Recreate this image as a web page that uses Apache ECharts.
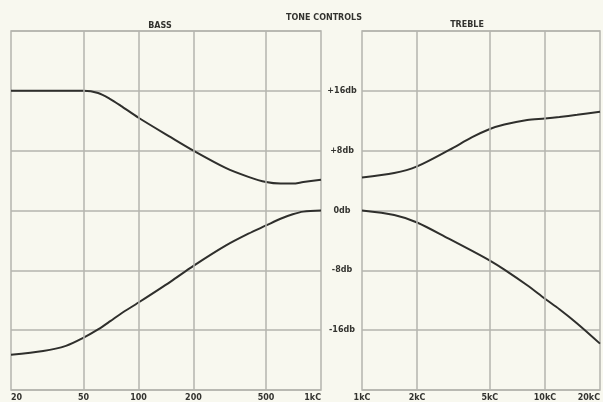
<!DOCTYPE html>
<html>
	<head>
		<meta charset="utf-8" />
		<title>Tone controls</title>
		<script src="https://cdn.jsdelivr.net/npm/echarts@6/dist/echarts.min.js"></script>
		<style>
			html, body { margin: 0; padding: 0; background: #f8f8ef; }
			#main { width: 603px; height: 402px; }
		</style>
	</head>
	<body>
		<div id="main"></div>
	</body>
	<script type="text/javascript">
		// bass side (Hz)
		var bassFreq = [20, 30, 40, 50, 60, 70, 80, 100, 150, 200, 300, 400, 500, 600, 700, 800, 1000];
		var bassBoost = [16, 16, 16, 16, 15.7, 14.9, 14.0, 12.4, 9.8, 8.0, 5.7, 4.5, 3.8, 3.6, 3.6, 3.8, 4.1];
		var bassCut = [-19.3, -18.8, -18.1, -17.0, -15.9, -14.8, -13.8, -12.3, -9.5, -7.4, -4.7, -3.1, -2.0, -1.1, -0.5, -0.15, 0];

		// treble side (Hz)
		var trebleFreq = [1000, 1500, 2000, 3000, 4000, 5000, 6000, 8000, 10000, 12000, 15000, 20000];
		var trebleBoost = [4.4, 5.0, 5.9, 8.1, 9.8, 10.9, 11.5, 12.1, 12.3, 12.5, 12.8, 13.2];
		var trebleCut = [0, -0.6, -1.6, -3.8, -5.4, -6.7, -7.9, -10.0, -11.8, -13.2, -15.1, -17.8];

		// tick labels
		var bassTicks = [20, 50, 100, 200, 500, 1000];
		var bassTickText = ['20', '50', '100', '200', '500', '1kC'];
		var trebleTicks = [1000, 2000, 5000, 10000, 20000];
		var trebleTickText = ['1kC', '2kC', '5kC', '10kC', '20kC'];
		var dbTicks = [-16, -8, 0, 8, 16];

		var gridColor = '#b4b4ae';
		var inkColor = '#2f2f2c';
		var labelFont = { fontSize: 8, fontWeight: 'bold', color: '#33332f', fontFamily: 'DejaVu Sans' };

		function pairs(xs, ys) {
			var out = [];
			for (var i = 0; i < xs.length; i++) out.push([xs[i], ys[i]]);
			return out;
		}

		function vLines(ticks) {
			// inner vertical grid lines, the outer ones are the frame
			var out = [];
			for (var i = 1; i < ticks.length - 1; i++) out.push({ xAxis: ticks[i] });
			return out;
		}

		function xAxisFor(idx, ticks, texts, alignMin) {
			return {
				type: 'log', logBase: 10, gridIndex: idx,
				min: ticks[0], max: ticks[ticks.length - 1],
				axisLine: { show: false }, axisTick: { show: false },
				splitLine: { show: false },
				axisLabel: Object.assign({
					customValues: ticks, margin: 4,
					alignMinLabel: alignMin, alignMaxLabel: 'right',
					formatter: function (v) {
						var k = ticks.indexOf(Math.round(v));
						return k >= 0 ? texts[k] : '';
					}
				}, labelFont)
			};
		}

		function curve(name, idx, xs, ys, ticks) {
			var s = {
				name: name, type: 'line', xAxisIndex: idx, yAxisIndex: idx,
				data: pairs(xs, ys), smooth: 0.3,
				showSymbol: false, silent: true,
				lineStyle: { color: inkColor, width: 2 }
			};
			if (ticks) {
				s.markLine = {
					silent: true, symbol: 'none', label: { show: false },
					lineStyle: { color: gridColor, width: 1.5, type: 'solid' },
					data: vLines(ticks)
				};
			}
			return s;
		}

		var myChart = echarts.init(document.getElementById('main'));
		var option = {
			backgroundColor: '#f8f8ef',
			animation: false,
			title: [
				{ text: 'TONE CONTROLS', left: 319, top: 9, textAlign: 'center', textStyle: labelFont },
				{ text: 'BASS', left: 155, top: 17, textAlign: 'center', textStyle: labelFont },
				{ text: 'TREBLE', left: 462, top: 16, textAlign: 'center', textStyle: labelFont }
			],
			grid: [
				{ left: 11, right: 282, top: 31, bottom: 11, show: true, borderColor: gridColor, borderWidth: 1.5, backgroundColor: 'transparent' },
				{ left: 362, right: 2, top: 31, bottom: 11, show: true, borderColor: gridColor, borderWidth: 1.5, backgroundColor: 'transparent' }
			],
			xAxis: [
				xAxisFor(0, bassTicks, bassTickText, 'left'),
				xAxisFor(1, trebleTicks, trebleTickText, 'center')
			],
			yAxis: [
				{
					type: 'value', gridIndex: 0, position: 'right', min: -24, max: 24, interval: 8,
					axisLine: { show: false }, axisTick: { show: false },
					splitLine: { lineStyle: { color: gridColor, width: 1.5 } },
					axisLabel: Object.assign({
						customValues: dbTicks, margin: 21, align: 'center',
						formatter: function (v) { return (v > 0 ? '+' : '') + v + 'db'; }
					}, labelFont)
				},
				{
					type: 'value', gridIndex: 1, min: -24, max: 24, interval: 8,
					axisLine: { show: false }, axisTick: { show: false },
					axisLabel: { show: false },
					splitLine: { lineStyle: { color: gridColor, width: 1.5 } }
				}
			],
			series: [
				curve('bass boost', 0, bassFreq, bassBoost, bassTicks),
				curve('bass cut', 0, bassFreq, bassCut),
				curve('treble boost', 1, trebleFreq, trebleBoost, trebleTicks),
				curve('treble cut', 1, trebleFreq, trebleCut)
			]
		};
		myChart.setOption(option);
	</script>
</html>
